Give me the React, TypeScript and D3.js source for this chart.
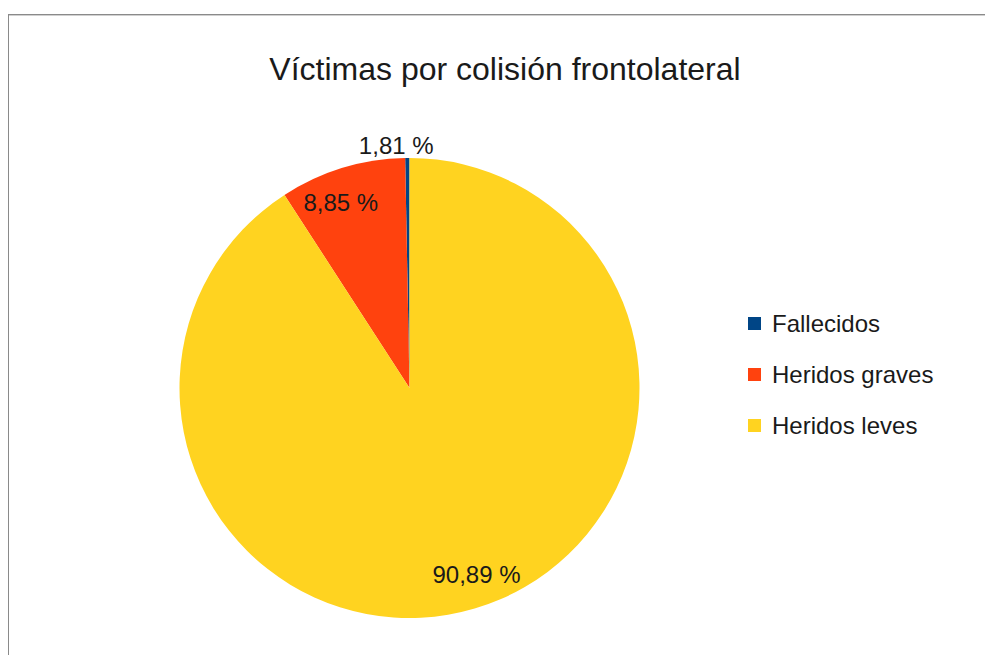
import React from "react";
import * as d3 from "d3";

const categories = ["Fallecidos", "Heridos graves", "Heridos leves"];
const sliceValues = [0.3, 8.85, 90.89];
const labelTexts = ["1,81 %", "8,85 %", "90,89 %"];
const colors = ["#004586", "#ff420e", "#ffd320"];
const title = "Víctimas por colisión frontolateral";

export default function App() {
  const W = 985;
  const H = 655;
  const cx = 409.5;
  const cy = 388;
  const r = 230;

  const pie = d3
    .pie<number>()
    .sort(null)
    .startAngle(0)
    .endAngle(-2 * Math.PI)
    .value((d) => d);
  const arcs = pie(sliceValues);
  const arc = d3.arc<d3.PieArcDatum<number>>().innerRadius(0).outerRadius(r);
  const labelArc = d3
    .arc<d3.PieArcDatum<number>>()
    .innerRadius(194)
    .outerRadius(194);
  const outerArc = d3
    .arc<d3.PieArcDatum<number>>()
    .innerRadius(r + 13)
    .outerRadius(r + 13);

  const font = "'Liberation Sans', Arial, sans-serif";
  const legendY = d3.scalePoint<string>().domain(categories).range([323, 425]);

  return (
    <svg
      width={W}
      height={H}
      style={{ position: "fixed", left: 0, top: 0, background: "#fff" }}
      fontFamily={font}
    >
      <rect x={0} y={0} width={W} height={H} fill="#fff" />
      <line x1={8} y1={14.5} x2={W} y2={14.5} stroke="#8a8a8a" />
      <line x1={8} y1={15.5} x2={W} y2={15.5} stroke="#d0d0d0" />
      <line x1={8.5} y1={14} x2={8.5} y2={H} stroke="#8a8a8a" />
      <text x={505} y={80} textAnchor="middle" fontSize={32} fill="#1a1a1a">
        {title}
      </text>
      <g transform={`translate(${cx},${cy})`}>
        {arcs.map((a, i) => (
          <path key={i} d={arc(a) || ""} fill={colors[i]} />
        ))}
        {arcs.map((a, i) => {
          let x: number, y: number;
          if (i === 0) {
            const c = outerArc.centroid(a);
            x = c[0] - 11;
            y = c[1];
          } else {
            const c = labelArc.centroid(a);
            x = c[0] + Math.sign(c[0]) * 12;
            y = c[1];
          }
          return (
            <text
              key={"l" + i}
              x={x}
              y={y}
              textAnchor="middle"
              dominantBaseline="central"
              fontSize={24}
              fill="#1a1a1a"
            >
              {labelTexts[i]}
            </text>
          );
        })}
      </g>
      {categories.map((c, i) => (
        <g key={c} transform={`translate(748,${legendY(c)})`}>
          <rect x={0} y={-6} width={13} height={13} fill={colors[i]} />
          <text x={24} y={0} dominantBaseline="central" fontSize={24} fill="#1a1a1a">
            {c}
          </text>
        </g>
      ))}
    </svg>
  );
}
